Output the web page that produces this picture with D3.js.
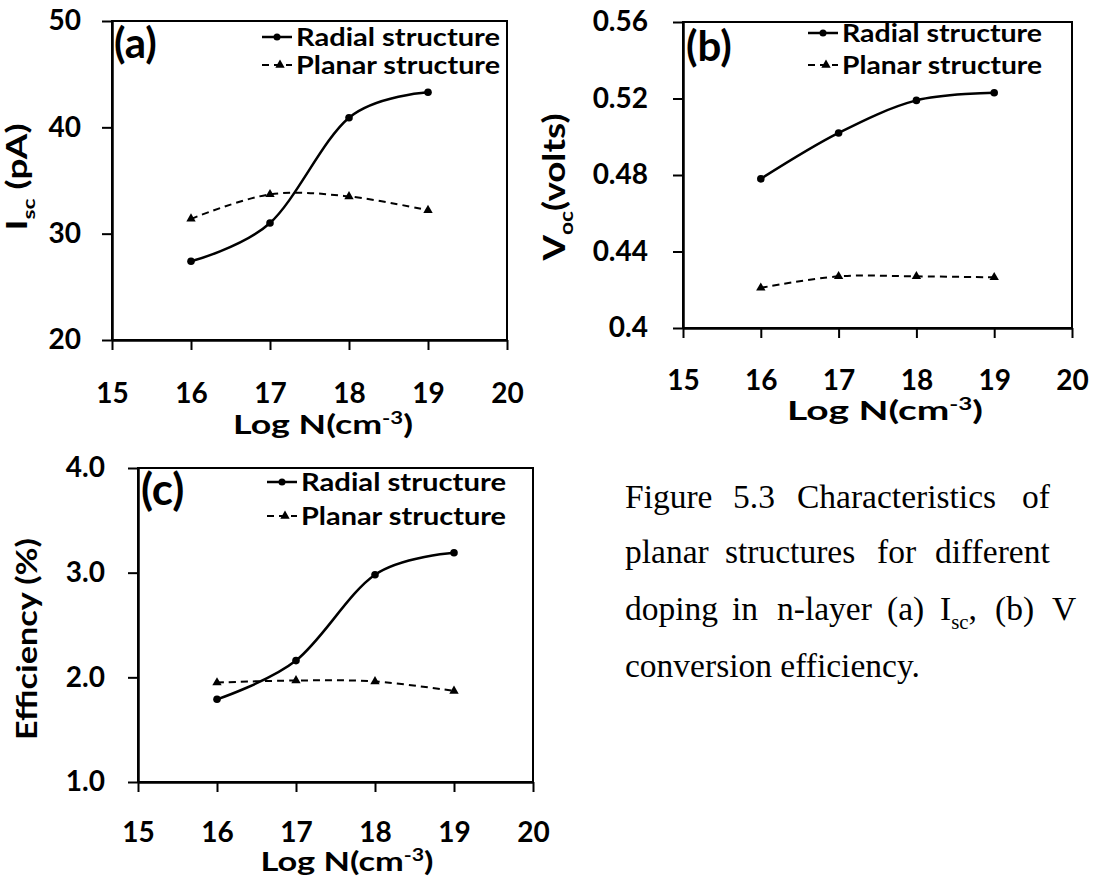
<!DOCTYPE html>
<html>
<head>
<meta charset="utf-8">
<script src="https://cdn.jsdelivr.net/npm/d3@7"></script>
<style>
  body { margin: 0; background: #fff; }
  text { font-family: Lato, "Open Sans", sans-serif; font-weight: 700; fill: #000; }
  .caption text { font-family: "Liberation Serif", "Times New Roman", serif; font-weight: 400; }
</style>
</head>
<body>
<script>
// doping levels (log N) and axis ticks
const doping = [16, 17, 18, 19]
const xTickValues = [15, 16, 17, 18, 19, 20]
const seriesNames = ['Radial structure', 'Planar structure']

// (a) short circuit current, pA
const iscRadial = [27.4, 31.0, 40.9, 43.3]
const iscPlanar = [31.4, 33.7, 33.5, 32.2]
const iscTicks = [20, 30, 40, 50]
const iscTickLabels = ['20', '30', '40', '50']

// (b) open circuit voltage, volts
const vocRadial = [0.478, 0.502, 0.519, 0.523]
const vocPlanar = [0.421, 0.427, 0.427, 0.4265]
const vocTicks = [0.40, 0.44, 0.48, 0.52, 0.56]
const vocTickLabels = ['0.4', '0.44', '0.48', '0.52', '0.56']

// (c) efficiency, %
const effRadial = [1.79, 2.16, 2.98, 3.19]
const effPlanar = [1.95, 1.97, 1.96, 1.87]
const effTicks = [1, 2, 3, 4]
const effTickLabels = ['1.0', '2.0', '3.0', '4.0']

const width = 1096,
      height = 878

let svg = d3.select('body')
  .append('svg')
  .attr('width', width)
  .attr('height', height)
  .style('background', '#fff')

// writes text made of parts [str, 'sub'|'sup'|null]
let richText = (sel, parts, size) => {
  let shift = 0
  parts.forEach(([s, kind]) => {
    let target = kind === 'sub' ? 0.28 * size : kind === 'sup' ? -0.38 * size : 0
    sel.append('tspan')
      .attr('dy', target - shift)
      .style('font-size', kind ? (0.62 * size) + 'px' : null)
      .text(s)
    shift = target
  })
}

let drawPanel = (o) => {
  let x = d3.scaleLinear().domain([15, 20]).range([o.l, o.r])
  let y = d3.scaleLinear().domain(o.yDomain).range([o.b, o.t])
  let g = svg.append('g')

  // y axis
  let ya = g.append('g')
    .attr('transform', `translate(${o.l},0)`)
    .call(d3.axisLeft(y).tickValues(o.yTicks)
      .tickFormat((d, i) => o.yTickLabels[i])
      .tickSize(10).tickSizeOuter(0).tickPadding(o.yPad))

  // x axis
  let xa = g.append('g')
    .attr('transform', `translate(0,${o.b})`)
    .call(d3.axisBottom(x).tickValues(xTickValues)
      .tickFormat(d3.format('d'))
      .tickSize(10).tickSizeOuter(0).tickPadding(o.xPad))

  ;[ya, xa].forEach(a => {
    a.selectAll('line').attr('stroke', '#000').attr('stroke-width', 2)
    a.select('.domain').attr('stroke', '#000').attr('stroke-width', 2.5)
    a.selectAll('text').style('font-size', '28px').attr('font-family', null)
  })

  // frame
  g.append('rect')
    .attr('x', o.l).attr('y', o.t)
    .attr('width', o.r - o.l).attr('height', o.b - o.t)
    .attr('fill', 'none').attr('stroke', '#000').attr('stroke-width', 2)

  let line = d3.line()
    .x((d, i) => x(doping[i]))
    .y(d => y(d))
    .curve(d3.curveCatmullRom.alpha(0))

  g.append('path').datum(o.planar)
    .attr('d', line).attr('fill', 'none')
    .attr('stroke', '#000').attr('stroke-width', 2)
    .attr('stroke-dasharray', '7,5')

  g.append('path').datum(o.radial)
    .attr('d', line).attr('fill', 'none')
    .attr('stroke', '#000').attr('stroke-width', 2.5)

  let tri = d3.symbol().type(d3.symbolTriangle).size(38)

  g.selectAll('.rad').data(o.radial).enter()
    .append('circle')
    .attr('cx', (d, i) => x(doping[i]))
    .attr('cy', d => y(d))
    .attr('r', 3.8)

  g.selectAll('.pla').data(o.planar).enter()
    .append('path')
    .attr('d', tri)
    .attr('transform', (d, i) => `translate(${x(doping[i])},${y(d)})`)

  // legend
  let lg = g.append('g')
  o.legY.forEach((ly, k) => {
    if (k === 0) {
      lg.append('line').attr('x1', o.legX).attr('x2', o.legX + 30)
        .attr('y1', ly).attr('y2', ly)
        .attr('stroke', '#000').attr('stroke-width', 2.5)
      lg.append('circle').attr('cx', o.legX + 15).attr('cy', ly).attr('r', 3.5)
    } else {
      lg.append('line').attr('x1', o.legX).attr('x2', o.legX + 30)
        .attr('y1', ly).attr('y2', ly)
        .attr('stroke', '#000').attr('stroke-width', 2)
        .attr('stroke-dasharray', '7,5')
      lg.append('path').attr('d', tri)
        .attr('transform', `translate(${o.legX + 18},${ly})`)
    }
    lg.append('text')
      .attr('x', o.legX + 34).attr('y', ly).attr('dy', '0.36em')
      .style('font-size', '24px')
      .attr('textLength', o.legW).attr('lengthAdjust', 'spacingAndGlyphs')
      .text(seriesNames[k])
  })

  // panel letter
  g.append('text')
    .attr('x', o.tagX).attr('y', o.tagY)
    .style('font-size', o.tagSize + 'px')
    .text(o.tag)

  // x axis title
  let xt = g.append('text')
    .attr('x', o.xTitle[0]).attr('y', o.xTitle[1])
    .attr('text-anchor', 'middle')
    .style('font-size', '26px')
    .attr('textLength', o.xTitle[2]).attr('lengthAdjust', 'spacingAndGlyphs')
  richText(xt, [['Log  N(cm', null], ['-3', 'sup'], [')', null]], 26)

  // y axis title
  let yt = g.append('text')
    .attr('transform', `translate(${o.yTitle[0]},${o.yTitle[1]}) rotate(-90)`)
    .attr('text-anchor', 'middle')
    .attr('dy', '0.36em')
    .style('font-size', o.yTitleSize + 'px')
    .attr('textLength', o.yTitle[2]).attr('lengthAdjust', 'spacingAndGlyphs')
  richText(yt, o.yTitleParts, o.yTitleSize)
}

drawPanel({
  l: 112, r: 507, t: 21, b: 340,
  yDomain: [20, 50], yTicks: iscTicks, yTickLabels: iscTickLabels,
  yPad: 21, xPad: 33,
  radial: iscRadial, planar: iscPlanar,
  legX: 262, legY: [37, 65], legW: 204,
  tag: '(a)', tagX: 114, tagY: 58, tagSize: 42,
  xTitle: [323, 434, 180],
  yTitle: [27, 177, 107], yTitleSize: 28,
  yTitleParts: [['I', null], ['sc', 'sub'], [' (pA)', null]]
})

drawPanel({
  l: 683, r: 1072, t: 22, b: 328,
  yDomain: [0.40, 0.56], yTicks: vocTicks, yTickLabels: vocTickLabels,
  yPad: 25, xPad: 32,
  radial: vocRadial, planar: vocPlanar,
  legX: 808, legY: [33, 65], legW: 200,
  tag: '(b)', tagX: 686, tagY: 61, tagSize: 42,
  xTitle: [885, 420, 196],
  yTitle: [565, 187, 147], yTitleSize: 30,
  yTitleParts: [['V', null], ['oc', 'sub'], ['(volts)', null]]
})

drawPanel({
  l: 138, r: 533, t: 468, b: 782,
  yDomain: [1, 4], yTicks: effTicks, yTickLabels: effTickLabels,
  yPad: 23, xPad: 30,
  radial: effRadial, planar: effPlanar,
  legX: 267, legY: [482, 516], legW: 205,
  tag: '(c)', tagX: 141, tagY: 505, tagSize: 44,
  xTitle: [347, 871, 173],
  yTitle: [37, 639, 202], yTitleSize: 28,
  yTitleParts: [['Efficiency (%)', null]]
})

// caption, justified lines placed word by word
const captionLines = [
  [['Figure', 625], ['5.3', 733], ['Characteristics', 797], ['of', 1022]],
  [['planar', 625], ['structures', 725], ['for', 877], ['different', 935]],
  [['doping', 625], ['in', 732], ['n-layer', 777], ['(a)', 887], ['I', 940], ['(b)', 995], ['V', 1052]],
  [['conversion efficiency.', 625]]
]
const captionBase = [508, 563, 620, 677]

let cap = svg.append('g').attr('class', 'caption')
captionLines.forEach((words, li) => {
  words.forEach(([w, wx]) => {
    let t = cap.append('text')
      .attr('x', wx).attr('y', captionBase[li])
      .style('font-size', '33.5px')
    if (w === 'I') richText(t, [['I', null], ['sc', 'sub'], [',', null]], 33.5)
    else t.text(w)
  })
})
</script>
</body>
</html>
